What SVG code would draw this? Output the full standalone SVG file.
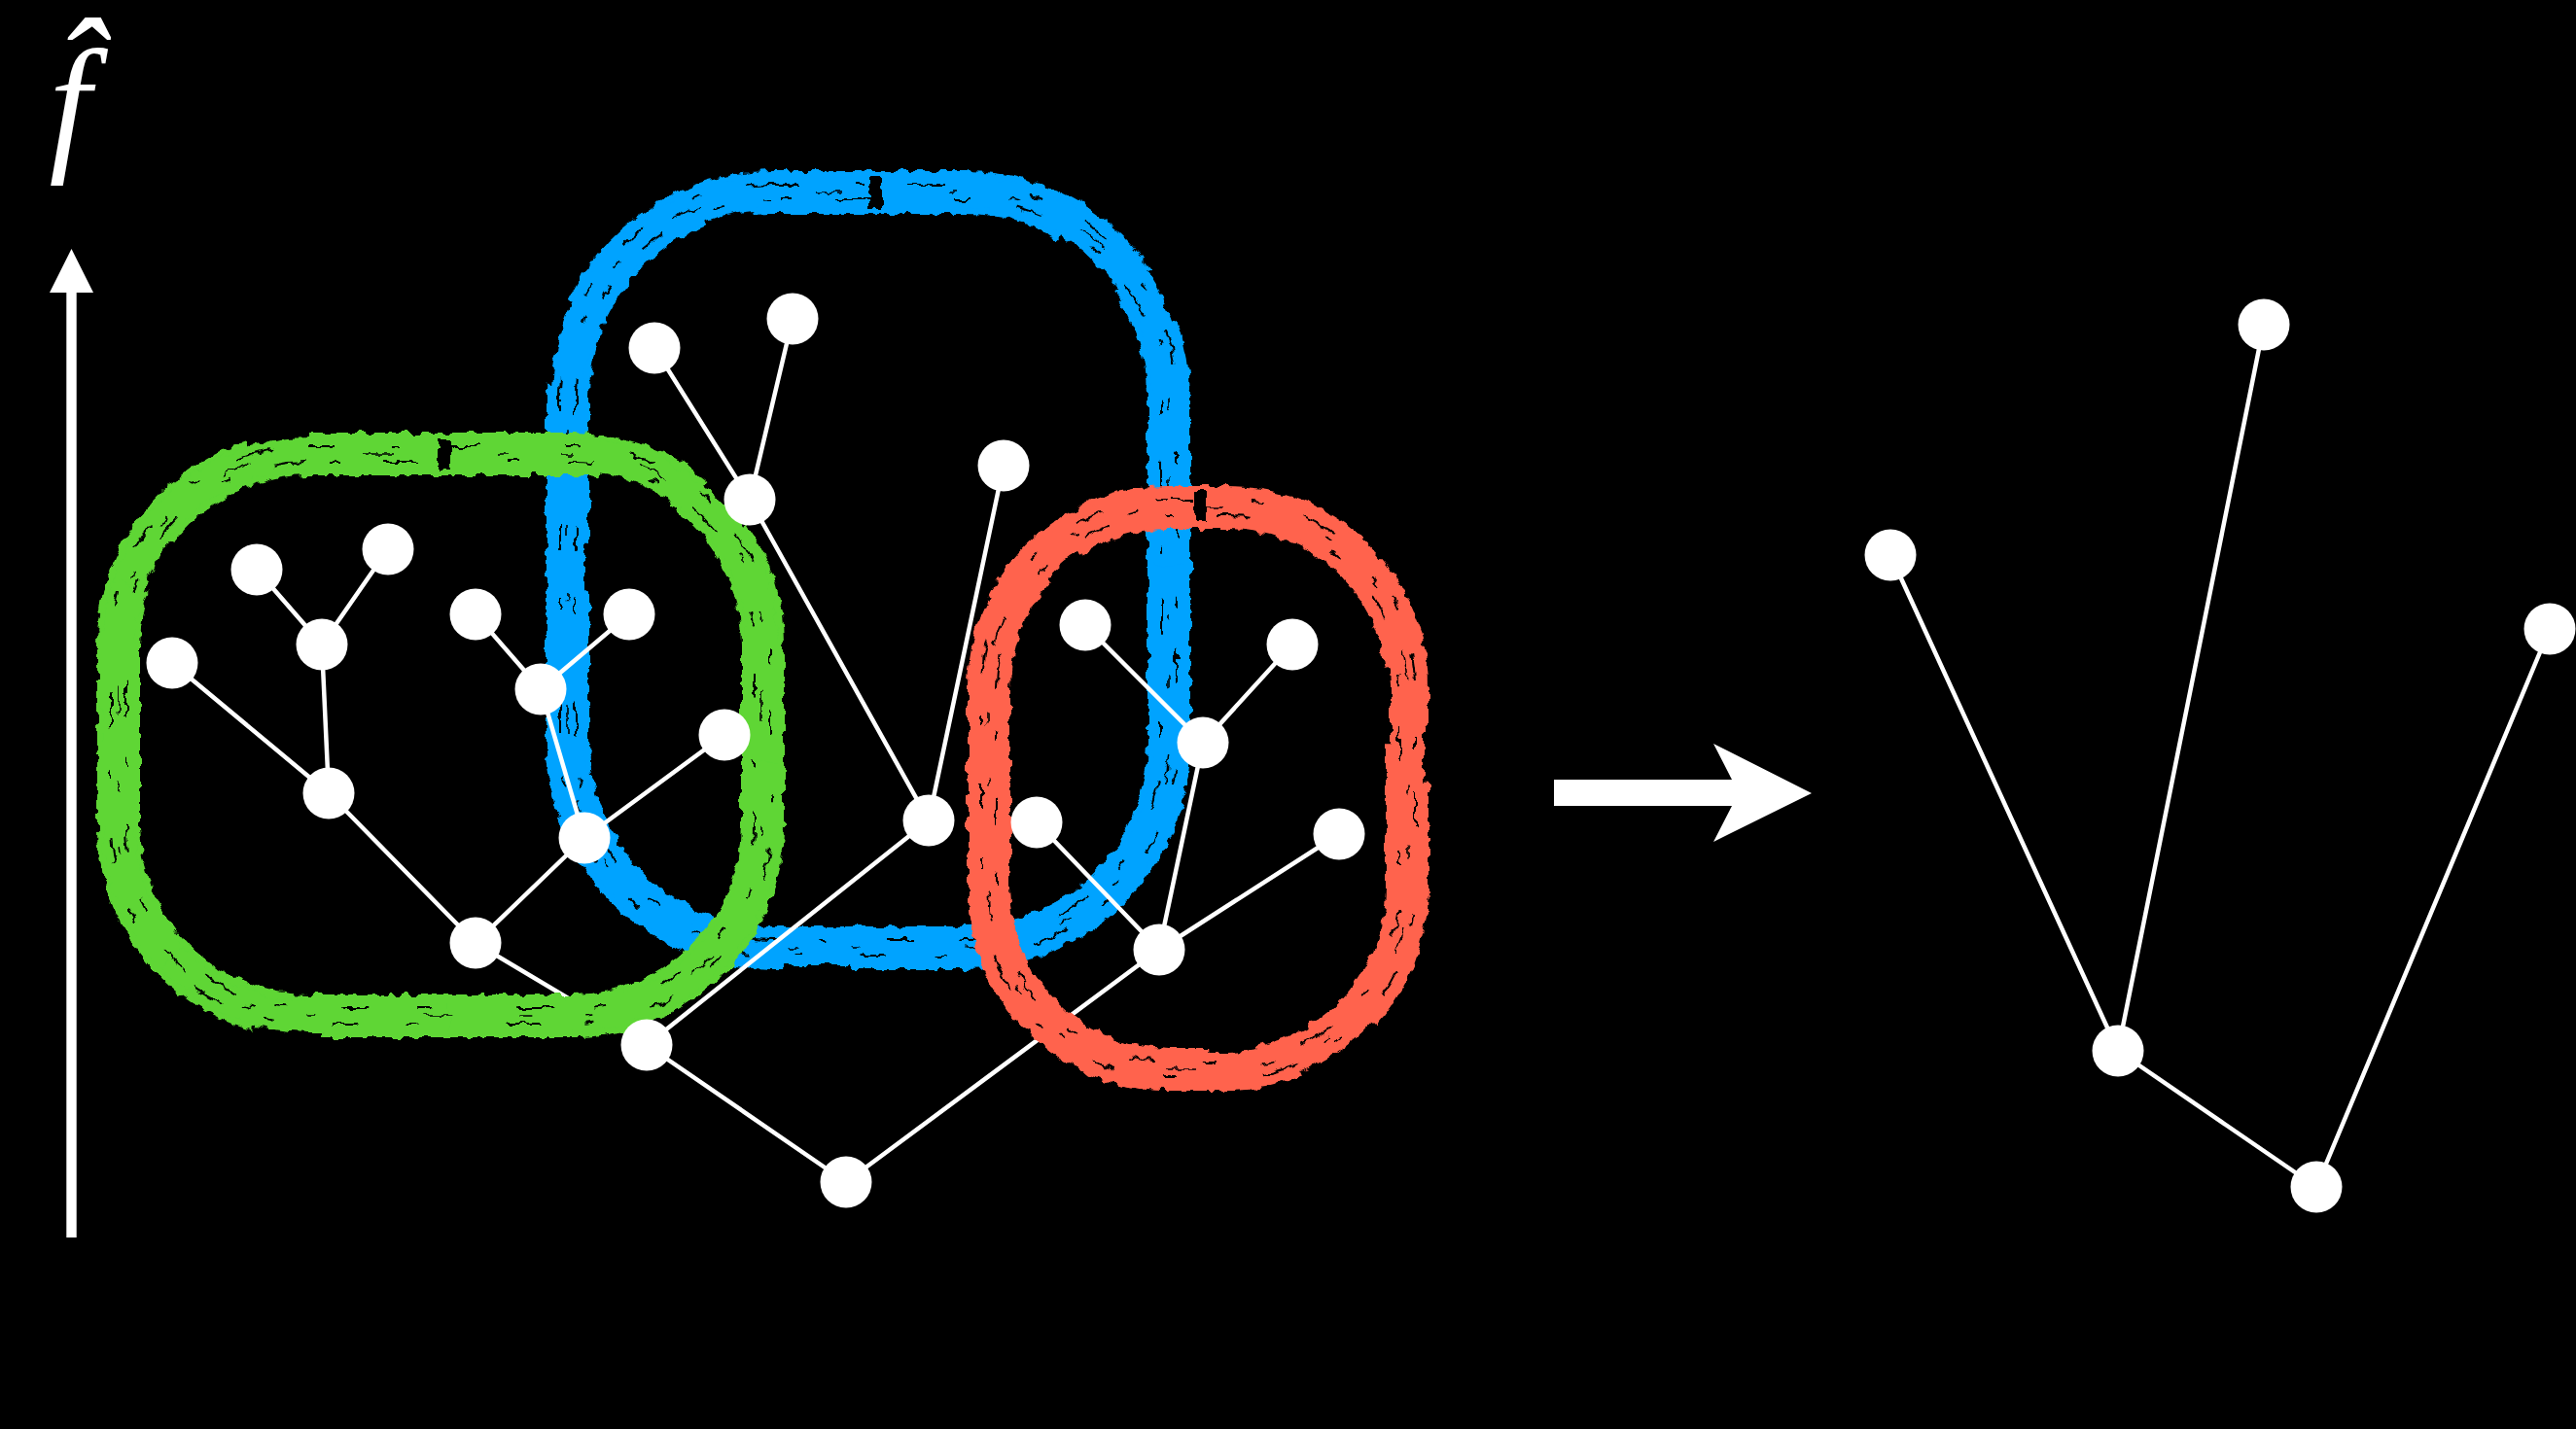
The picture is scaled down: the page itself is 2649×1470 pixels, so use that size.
<svg xmlns="http://www.w3.org/2000/svg" width="2649" height="1470" viewBox="0 0 2649 1470">
<defs>
<filter id="rough" filterUnits="userSpaceOnUse" x="0" y="0" width="2649" height="1470">
<feTurbulence type="fractalNoise" baseFrequency="0.09" numOctaves="2" seed="7" result="n"/>
<feDisplacementMap in="SourceGraphic" in2="n" scale="10" xChannelSelector="R" yChannelSelector="G"/>
</filter>
</defs>
<style>
.edge{stroke:#fff;stroke-width:4.5;fill:none;stroke-linecap:round}
.node{fill:#fff}
.loop rect{fill:none}
.main{stroke-width:34}
.thick{stroke-width:44;stroke-dasharray:0 700 500 300 400 2000}
.outer{stroke-width:6;stroke-dasharray:420 60 260 90 340 40 180 70}
.inner{stroke-width:6;stroke-dasharray:300 80 380 50 150 60 420 40}
.streak{stroke:#000;stroke-width:2;stroke-dasharray:26 60 10 44 36 90 14 50}
.streak2{stroke:#000;stroke-width:1.6;stroke-dasharray:12 70 30 110 8 55}
.green{stroke:#5ed636}
.blue{stroke:#00a3ff}
.red{stroke:#ff644e}
</style>
<rect width="2649" height="1470" fill="#000"/>

<g id="axis-label">
<text x="50.6" y="158" font-family="Liberation Serif, serif" font-style="italic" font-size="154" fill="#fff">f&#x302;</text>
</g>
<g id="axis-arrow" fill="#fff">
<rect x="68.3" y="299" width="10.4" height="974"/>
<polygon points="51,301 73.5,256 96,301"/>
</g>

<g id="loop-blue" class="loop" filter="url(#rough)">
<rect class="main blue" x="584" y="198" width="618" height="777" rx="210" stroke-dasharray="99 14 2322 0"/>
<rect class="thick blue" x="584" y="198" width="618" height="777" rx="210"/>
<rect class="outer blue" x="565" y="179" width="656" height="815" rx="229"/>
<rect class="inner blue" x="603" y="217" width="580" height="739" rx="191"/>
<rect class="streak" x="576" y="190" width="634" height="793" rx="218"/>
<rect class="streak2" x="584" y="198" width="618" height="777" rx="210" stroke-dashoffset="40"/>
<rect class="streak" x="592" y="206" width="602" height="761" rx="202" stroke-dashoffset="77"/>
</g>

<g id="connectors">
<line class="edge" x1="264" y1="586" x2="331" y2="663"/>
<line class="edge" x1="399" y1="565" x2="331" y2="663"/>
<line class="edge" x1="331" y1="663" x2="338" y2="816"/>
<line class="edge" x1="177" y1="682" x2="338" y2="816"/>
<line class="edge" x1="338" y1="816" x2="489" y2="970"/>
<line class="edge" x1="489" y1="632" x2="556" y2="709"/>
<line class="edge" x1="647" y1="632" x2="556" y2="709"/>
<line class="edge" x1="556" y1="709" x2="601" y2="862"/>
<line class="edge" x1="745" y1="756" x2="601" y2="862"/>
<line class="edge" x1="601" y1="862" x2="489" y2="970"/>
<line class="edge" x1="489" y1="970" x2="665" y2="1075"/>
<line class="edge" x1="665" y1="1075" x2="870" y2="1216"/>
<line class="edge" x1="665" y1="1075" x2="955" y2="844"/>
<line class="edge" x1="673" y1="358" x2="771" y2="514"/>
<line class="edge" x1="815" y1="328" x2="771" y2="514"/>
<line class="edge" x1="771" y1="514" x2="955" y2="844"/>
<line class="edge" x1="1032" y1="479" x2="955" y2="844"/>
<line class="edge" x1="870" y1="1216" x2="1192" y2="977"/>
<line class="edge" x1="1192" y1="977" x2="1066" y2="846"/>
<line class="edge" x1="1192" y1="977" x2="1237" y2="764"/>
<line class="edge" x1="1237" y1="764" x2="1116" y2="643"/>
<line class="edge" x1="1237" y1="764" x2="1329" y2="663"/>
<line class="edge" x1="1192" y1="977" x2="1377" y2="858"/>
<line class="edge" x1="1944" y1="571" x2="2178" y2="1081"/>
<line class="edge" x1="2328" y1="334" x2="2178" y2="1081"/>
<line class="edge" x1="2178" y1="1081" x2="2382" y2="1221"/>
<line class="edge" x1="2382" y1="1221" x2="2622" y2="647"/>
</g>

<g id="loop-green" class="loop" filter="url(#rough)">
<rect class="main green" x="122" y="467" width="662" height="578" rx="195" stroke-dasharray="134 12 2004 0"/>
<rect class="thick green" x="122" y="467" width="662" height="578" rx="195"/>
<rect class="outer green" x="103" y="448" width="700" height="616" rx="214"/>
<rect class="inner green" x="141" y="486" width="624" height="540" rx="176"/>
<rect class="streak" x="114" y="459" width="678" height="594" rx="203"/>
<rect class="streak2" x="122" y="467" width="662" height="578" rx="195" stroke-dashoffset="25"/>
<rect class="streak" x="130" y="475" width="646" height="562" rx="187" stroke-dashoffset="63"/>
</g>

<g id="loop-red" class="loop" filter="url(#rough)">
<rect class="main red" x="1017" y="522" width="430" height="578" rx="185" stroke-dasharray="27 12 1663 0"/>
<rect class="thick red" x="1017" y="522" width="430" height="578" rx="185" stroke-dashoffset="-200"/>
<rect class="outer red" x="998" y="503" width="468" height="616" rx="204"/>
<rect class="inner red" x="1036" y="541" width="392" height="540" rx="166"/>
<rect class="streak" x="1009" y="514" width="446" height="594" rx="193"/>
<rect class="streak2" x="1017" y="522" width="430" height="578" rx="185" stroke-dashoffset="55"/>
<rect class="streak" x="1025" y="530" width="414" height="562" rx="177" stroke-dashoffset="91"/>
</g>

<g id="nodes">
<circle id="n-a" class="node" cx="264" cy="586" r="26.5"/>
<circle id="n-b" class="node" cx="399" cy="565" r="26.5"/>
<circle id="n-c" class="node" cx="331" cy="663" r="26.5"/>
<circle id="n-d" class="node" cx="177" cy="682" r="26.5"/>
<circle id="n-e" class="node" cx="338" cy="816" r="26.5"/>
<circle id="n-f" class="node" cx="489" cy="632" r="26.5"/>
<circle id="n-g" class="node" cx="647" cy="632" r="26.5"/>
<circle id="n-h" class="node" cx="556" cy="709" r="26.5"/>
<circle id="n-i" class="node" cx="745" cy="756" r="26.5"/>
<circle id="n-j" class="node" cx="601" cy="862" r="26.5"/>
<circle id="n-k" class="node" cx="489" cy="970" r="26.5"/>
<circle id="n-l" class="node" cx="665" cy="1075" r="26.5"/>
<circle id="n-m" class="node" cx="771" cy="514" r="26.5"/>
<circle id="n-n" class="node" cx="673" cy="358" r="26.5"/>
<circle id="n-o" class="node" cx="815" cy="328" r="26.5"/>
<circle id="n-p" class="node" cx="1032" cy="479" r="26.5"/>
<circle id="n-q" class="node" cx="955" cy="844" r="26.5"/>
<circle id="n-r" class="node" cx="1116" cy="643" r="26.5"/>
<circle id="n-s" class="node" cx="1237" cy="764" r="26.5"/>
<circle id="n-t" class="node" cx="1066" cy="846" r="26.5"/>
<circle id="n-u" class="node" cx="1192" cy="977" r="26.5"/>
<circle id="n-v" class="node" cx="1329" cy="663" r="26.5"/>
<circle id="n-w" class="node" cx="1377" cy="858" r="26.5"/>
<circle id="n-x" class="node" cx="870" cy="1216" r="26.5"/>
<circle id="r-left" class="node" cx="1944" cy="571" r="26.5"/>
<circle id="r-top" class="node" cx="2328" cy="334" r="26.5"/>
<circle id="r-right" class="node" cx="2622" cy="647" r="26.5"/>
<circle id="r-mid" class="node" cx="2178" cy="1081" r="26.5"/>
<circle id="r-bottom" class="node" cx="2382" cy="1221" r="26.5"/>
</g>

<g id="transform-arrow">
<polygon fill="#fff" points="1598,802 1781,802 1762,765 1863,816 1762,866 1781,829 1598,829"/>
</g>
</svg>
